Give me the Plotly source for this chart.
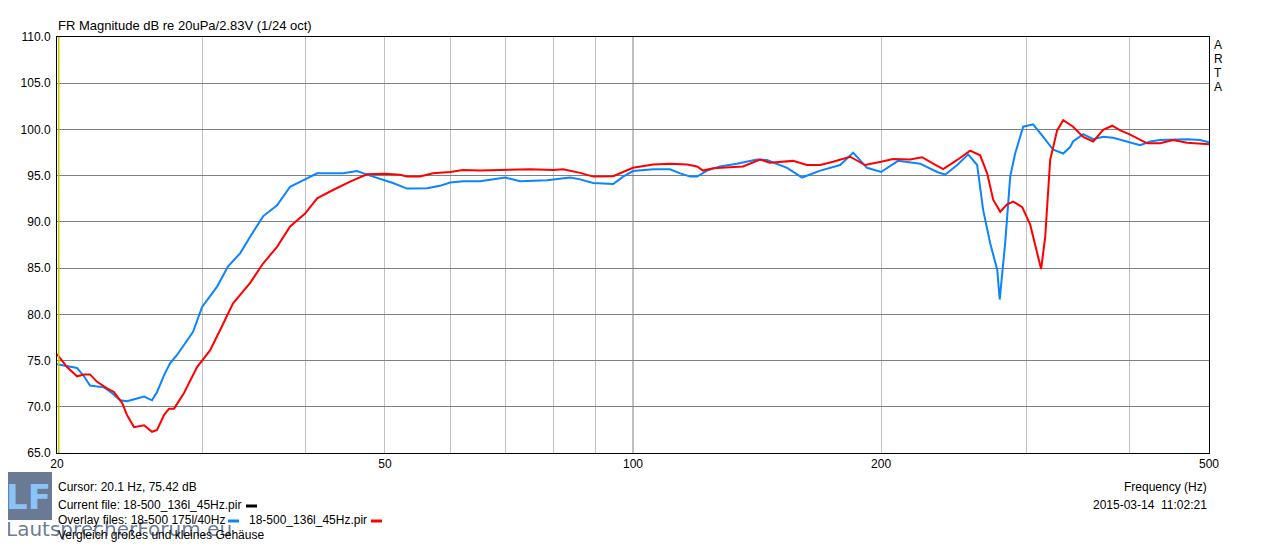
import plotly.graph_objects as go

# ---- data ----
blue_freq = [20.0, 20.57, 21.15, 21.57, 21.93, 22.81, 23.32, 23.85, 24.32, 25.01, 25.51, 26.08, 26.45,
             26.97, 27.43, 27.97, 28.44, 29.25, 30.0, 31.28, 32.26, 33.36, 34.31, 35.57, 36.99, 38.36,
             40.0, 41.37, 44.48, 46.25, 47.96, 50.0, 51.14, 53.18, 56.24, 58.31, 60.0, 62.2, 65.22, 70.0,
             72.94, 78.66, 83.89, 86.27, 89.46, 94.61, 97.29, 100.0, 105.8, 110.9, 114.1, 117.3, 119.6,
             123.0, 127.5, 133.7, 141.4, 145.4, 153.8, 160.4, 168.7, 178.4, 185.0, 192.3, 200.0, 209.7,
             223.1, 233.9, 239.2, 247.4, 255.1, 261.6, 266.0, 271.3, 276.7, 278.6, 282.9, 286.9, 290.9,
             297.5, 305.9, 314.6, 323.5, 332.7, 339.2, 342.0, 351.8, 361.8, 372.0, 382.5, 400.0, 412.5,
             424.2, 436.2, 470.2, 487.6, 500.0]
blue_db = [74.6, 74.4, 74.2, 73.3, 72.3, 72.1, 71.5, 70.7, 70.6, 70.9, 71.1, 70.7, 71.6,
           73.4, 74.7, 75.6, 76.5, 78.1, 80.8, 83.0, 85.2, 86.6, 88.4, 90.6, 91.8, 93.8,
           94.6, 95.25, 95.25, 95.5, 95.0, 94.5, 94.2, 93.6, 93.65, 93.9, 94.25, 94.4, 94.4, 94.8,
           94.4, 94.5, 94.8, 94.6, 94.2, 94.1, 94.9, 95.5, 95.7, 95.7, 95.25, 94.9, 94.9,
           95.55, 96.0, 96.3, 96.75, 96.7, 95.85, 94.8, 95.55, 96.15, 97.5, 95.85, 95.4, 96.6,
           96.3, 95.4, 95.1, 96.15, 97.3, 96.15, 91.3, 87.7, 84.8, 81.6, 87.7, 94.9, 97.4,
           100.3, 100.55, 99.2, 97.8, 97.4, 98.1, 98.7, 99.5, 98.95, 99.2, 99.1, 98.6, 98.3,
           98.7, 98.85, 98.95, 98.85, 98.6]

red_freq = [20.0, 20.57, 21.15, 21.57, 21.93, 22.37, 23.0, 23.45, 24.0, 24.32, 24.8, 25.51, 26.08,
            26.45, 26.97, 27.35, 27.74, 28.52, 29.58, 30.16, 30.67, 31.55, 32.71, 34.31, 35.57, 36.99,
            38.36, 40.0, 41.37, 43.25, 45.36, 47.56, 50.0, 52.15, 53.18, 55.15, 57.19, 60.0, 62.2, 65.22,
            70.0, 75.0, 80.0, 82.27, 86.27, 89.46, 94.61, 97.29, 100.0, 105.8, 110.9, 116.3, 119.6,
            121.6, 125.1, 131.1, 136.0, 142.6, 146.6, 156.4, 162.6, 168.7, 174.9, 183.4, 191.3, 200.0,
            206.8, 216.9, 224.3, 231.3, 237.9, 247.4, 256.5, 263.8, 269.0, 273.6, 279.0, 284.4, 289.3,
            296.7, 303.4, 309.4, 312.8, 316.4, 320.8, 327.1, 332.7, 342.0, 351.8, 361.8, 372.0, 381.5,
            390.1, 400.0, 412.5, 420.6, 436.2, 452.3, 470.2, 487.6, 500.0]
red_db = [75.7, 74.3, 73.3, 73.5, 73.5, 72.7, 72.0, 71.6, 70.4, 69.1, 67.8, 68.0, 67.3,
          67.5, 69.1, 69.8, 69.8, 71.5, 74.3, 75.2, 76.1, 78.3, 81.2, 83.4, 85.5, 87.3,
          89.5, 90.9, 92.55, 93.45, 94.35, 95.15, 95.2, 95.1, 94.9, 94.9, 95.25, 95.4, 95.6, 95.55,
          95.6, 95.7, 95.6, 95.7, 95.3, 94.9, 94.95, 95.4, 95.85, 96.2, 96.3, 96.2, 96.0,
          95.55, 95.8, 95.9, 96.0, 96.75, 96.4, 96.6, 96.15, 96.15, 96.5, 97.05, 96.15, 96.5,
          96.8, 96.75, 97.0, 96.3, 95.7, 96.7, 97.7, 97.2, 95.25, 92.4, 91.1, 91.9, 92.2,
          91.6, 89.7, 86.6, 84.9, 88.4, 96.7, 99.9, 101.0, 100.3, 99.2, 98.7, 99.95, 100.4,
          99.9, 99.5, 98.85, 98.5, 98.5, 98.85, 98.55, 98.5, 98.4]

x_tickvals = [20, 30, 40, 50, 60, 70, 80, 90, 100, 200, 300, 400, 500]
x_ticktext = ["20", "", "", "50", "", "", "", "", "100", "200", "", "", "500"]
y_tickvals = [65, 70, 75, 80, 85, 90, 95, 100, 105, 110]
cursor_freq = 20.1

# ---- layout helpers (page pixel -> paper); page has an 8px body margin ----
OFF = 8
L, R, T, B = 57, 1209, 37, 453
W, H = 1265, 547
def px(x):
    return (x - L) / (R - L)
def py(y):
    return (B - y) / (B - T)

FONT = "Liberation Sans, Arial, sans-serif"

fig = go.Figure()
fig.add_trace(go.Scatter(x=blue_freq, y=blue_db, mode="lines",
                         line=dict(color="#0a84ff", width=2), hoverinfo="skip"))
fig.add_trace(go.Scatter(x=red_freq, y=red_db, mode="lines",
                         line=dict(color="#ff0000", width=2), hoverinfo="skip"))

shapes = [
    dict(type="line", xref="x", yref="paper", x0=100, x1=100, y0=0, y1=1,
         line=dict(color="#808080", width=1), layer="below"),
    dict(type="line", xref="x", yref="paper", x0=cursor_freq, x1=cursor_freq, y0=0, y1=1,
         line=dict(color="#c8c800", width=1.5)),
    dict(type="line", xref="paper", yref="paper", x0=px(246), x1=px(257), y0=py(506), y1=py(506),
         line=dict(color="black", width=3)),
    dict(type="line", xref="paper", yref="paper", x0=px(228), x1=px(239), y0=py(521), y1=py(521),
         line=dict(color="#0a84ff", width=3)),
    dict(type="line", xref="paper", yref="paper", x0=px(371), x1=px(382), y0=py(521), y1=py(521),
         line=dict(color="#ff0000", width=3)),
    dict(type="rect", xref="paper", yref="paper", x0=px(5), x1=px(52), y0=py(520), y1=py(472),
         fillcolor="rgba(90,108,138,0.9)", line=dict(width=0), layer="below"),
]

ann = []
def text(x, y, s, size=12, xanchor="left", color="black", family=FONT):
    ann.append(dict(x=px(x), y=py(y), xref="paper", yref="paper", text=s, showarrow=False,
                    xanchor=xanchor, yanchor="middle", font=dict(family=family, size=size, color=color)))

text(56, 26, "FR Magnitude dB re 20uPa/2.83V (1/24 oct)", size=13)
for i, ch in enumerate("ARTA"):
    text(1218, 45 + 14 * i, ch, xanchor="center")
text(1209, 487, "Frequency (Hz)", xanchor="right")
text(1209, 505, "2015-03-14  11:02:21", xanchor="right")
text(28, 497, "<b>LF</b>", size=34, xanchor="center", color="rgba(140,200,255,0.95)",
     family="DejaVu Sans, sans-serif")
text(4, 529, "LautsprecherForum.eu", size=20, color="rgba(80,100,132,0.85)",
     family="DejaVu Sans, sans-serif")
text(56, 487, "Cursor: 20.1 Hz, 75.42 dB")
text(56, 505, "Current file: 18-500_136l_45Hz.pir")
text(56, 520, "Overlay files: 18-500 175l/40Hz")
text(247, 520, "18-500_136l_45Hz.pir")
text(56, 535, "Vergleich großes und kleines Gehäuse")

fig.update_layout(
    width=W, height=H,
    margin=dict(l=L - OFF, r=W - (R - L) - (L - OFF), t=T - OFF, b=H - (B - T) - (T - OFF)),
    paper_bgcolor="white", plot_bgcolor="white",
    showlegend=False, hovermode=False,
    font=dict(family=FONT, size=12, color="black"),
    shapes=shapes, annotations=ann,
    xaxis=dict(type="log", range=[1.30103, 2.69897], tickvals=x_tickvals, ticktext=x_ticktext,
               showgrid=True, gridcolor="#c0c0c0", gridwidth=1, zeroline=False,
               showline=True, linecolor="black", linewidth=1, mirror=True, ticks="",
               tickfont=dict(family=FONT, size=12, color="black")),
    yaxis=dict(range=[65, 110], tickvals=y_tickvals, tickformat=".1f",
               showgrid=True, gridcolor="#808080", gridwidth=1, zeroline=False,
               showline=True, linecolor="black", linewidth=1, mirror=True, ticks="",
               ticklabelstandoff=3,
               tickfont=dict(family=FONT, size=12, color="black")),
)

fig.write_html("out.html")
